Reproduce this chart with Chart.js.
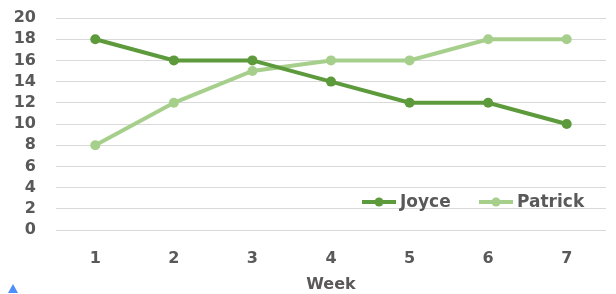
<!DOCTYPE html>
<html>
<head>
<meta charset="utf-8">
<script src="https://cdn.jsdelivr.net/npm/chart.js@4/dist/chart.umd.min.js"></script>
<style>
  html, body { margin: 0; padding: 0; background: #fff; }
  #wrap { width: 616px; height: 294px; position: relative; }
</style>
</head>
<body>
<div id="wrap"><canvas id="chart"></canvas></div>
<script>
// Chart data
const weeks = ['1', '2', '3', '4', '5', '6', '7'];
const joyce = [18, 16, 16, 14, 12, 12, 10];
const patrick = [8, 12, 15, 16, 16, 18, 18];
const seriesNames = ['Joyce', 'Patrick'];

const textColor = '#595959';
const fontFamily = '"DejaVu Sans", sans-serif';
const colors = ['#5c9a3c', '#a6cf8c'];

// Legend drawn inside the plot, bottom right
const insideLegend = {
  id: 'insideLegend',
  afterDraw(chart) {
    const ctx = chart.ctx;
    const y = 202;
    const items = [
      { x: 362, color: colors[0], label: seriesNames[0] },
      { x: 479, color: colors[1], label: seriesNames[1] }
    ];
    ctx.save();
    items.forEach(it => {
      ctx.strokeStyle = it.color;
      ctx.lineWidth = 4;
      ctx.beginPath();
      ctx.moveTo(it.x, y);
      ctx.lineTo(it.x + 34, y);
      ctx.stroke();
      ctx.fillStyle = it.color;
      ctx.beginPath();
      ctx.arc(it.x + 17, y, 4.5, 0, Math.PI * 2);
      ctx.fill();
      ctx.fillStyle = textColor;
      ctx.font = 'bold 17px ' + fontFamily;
      ctx.textBaseline = 'middle';
      ctx.fillText(it.label, it.x + 38, y + 1);
    });
    // small blue marker in the corner
    ctx.fillStyle = '#4f8ff7';
    ctx.beginPath();
    ctx.moveTo(13, 284);
    ctx.lineTo(18, 293);
    ctx.lineTo(8, 293);
    ctx.closePath();
    ctx.fill();
    ctx.restore();
  }
};

new Chart(document.getElementById('chart').getContext('2d'), {
  type: 'line',
  data: {
    labels: weeks,
    datasets: [
      {
        label: seriesNames[0],
        data: joyce,
        borderColor: colors[0],
        backgroundColor: colors[0],
        borderWidth: 4,
        pointRadius: 5,
        pointBorderWidth: 0,
        pointHoverRadius: 5,
        tension: 0
      },
      {
        label: seriesNames[1],
        data: patrick,
        borderColor: colors[1],
        backgroundColor: colors[1],
        borderWidth: 4,
        pointRadius: 5,
        pointBorderWidth: 0,
        pointHoverRadius: 5,
        tension: 0
      }
    ]
  },
  options: {
    responsive: true,
    maintainAspectRatio: false,
    animation: false,
    layout: { padding: { top: 18, right: 10, bottom: 0, left: 0 } },
    plugins: {
      legend: { display: false },
      tooltip: { enabled: false }
    },
    scales: {
      x: {
        offset: true,
        grid: { display: false },
        border: { display: false },
        ticks: {
          color: textColor,
          font: { family: fontFamily, size: 16, weight: 'bold' },
          padding: 11
        },
        title: {
          display: true,
          text: 'Week',
          color: textColor,
          font: { family: fontFamily, size: 16, weight: 'bold' },
          padding: { top: 12, bottom: 0 }
        },
        afterFit(scale) { scale.height = 64; }
      },
      y: {
        min: 0,
        max: 20,
        ticks: {
          stepSize: 2,
          autoSkip: false,
          color: textColor,
          font: { family: fontFamily, size: 16, weight: 'bold' },
          padding: 0
        },
        grid: {
          color: '#d9d9d9',
          lineWidth: 1,
          drawTicks: true,
          tickLength: 20,
          tickColor: 'rgba(0,0,0,0)'
        },
        border: { display: false },
        afterFit(scale) { scale.width = 56; }
      }
    }
  },
  plugins: [insideLegend]
});
</script>
</body>
</html>
